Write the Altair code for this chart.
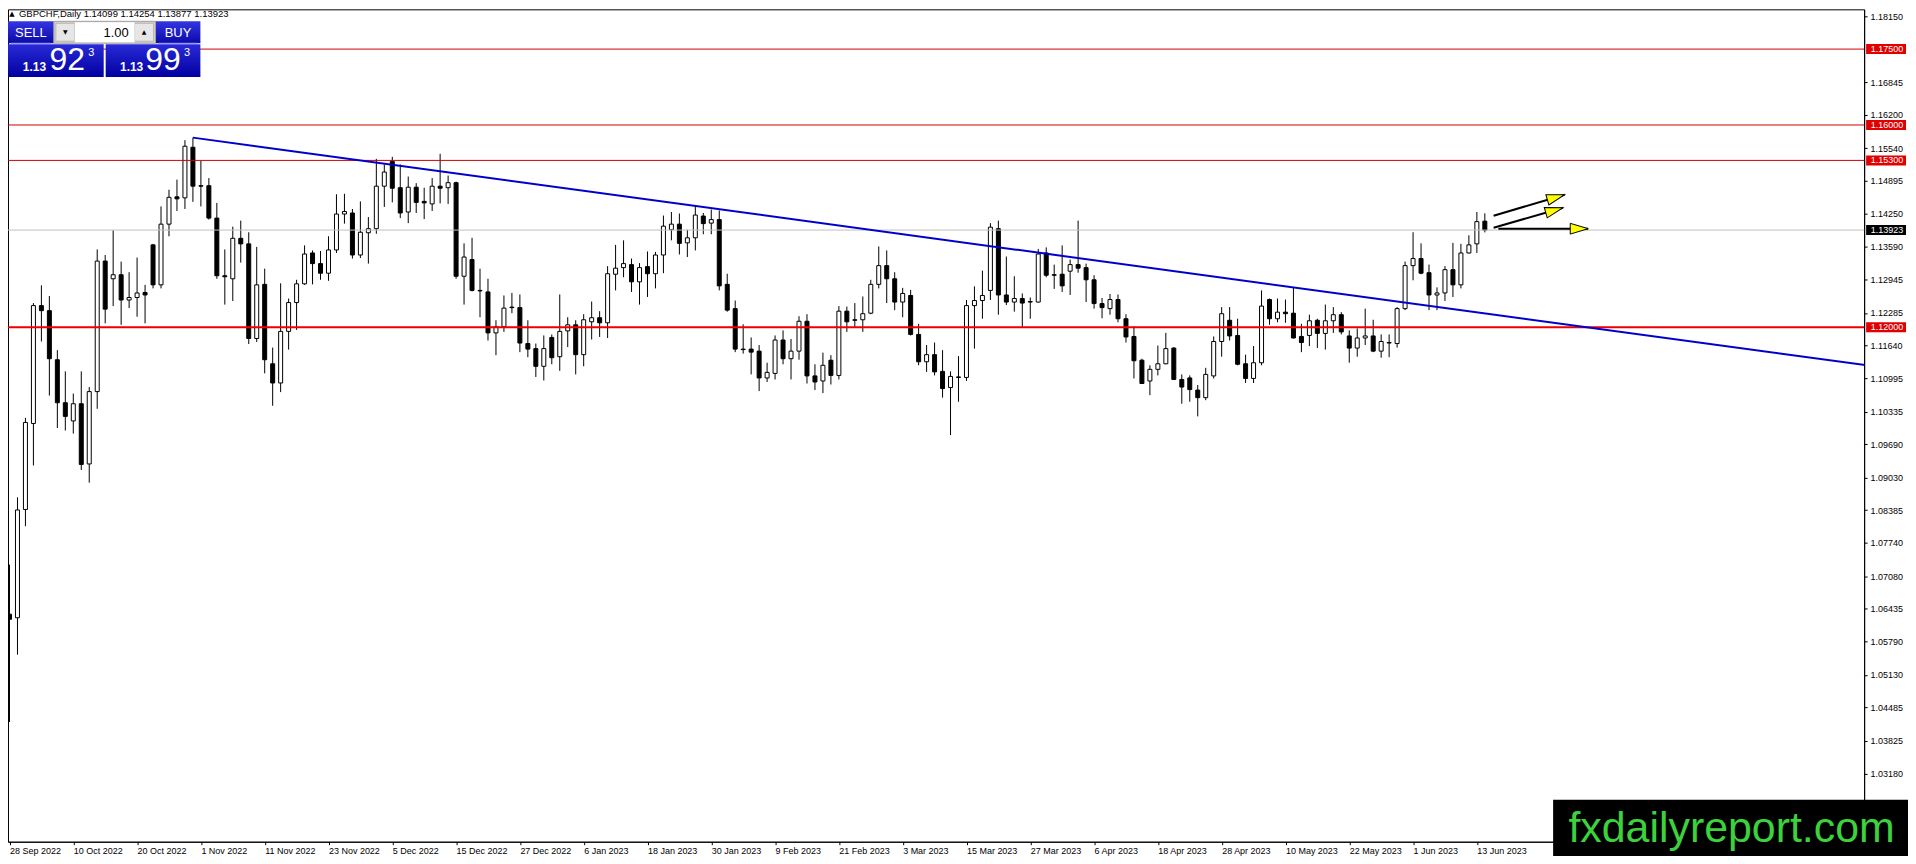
import math
import altair as alt
import pandas as pd

# ---------------- data ----------------
opens = [1.0633, 1.0626, 1.0840, 1.1010, 1.1243, 1.1233, 1.1136, 1.1051, 1.1015, 1.1049,
         1.0930, 1.1073, 1.1331, 1.1296, 1.1304, 1.1254, 1.1259, 1.1269, 1.1363, 1.1284,
         1.1404, 1.1458, 1.1456, 1.1556, 1.1480, 1.1480, 1.1416, 1.1302, 1.1296, 1.1376,
         1.1365, 1.1178, 1.1285, 1.1128, 1.1090, 1.1192, 1.1249, 1.1286, 1.1347, 1.1326,
         1.1307, 1.1353, 1.1424, 1.1426, 1.1343, 1.1387, 1.1395, 1.1479, 1.1528, 1.1476,
         1.1428, 1.1477, 1.1449, 1.1444, 1.1479, 1.1476, 1.1486, 1.1301, 1.1334, 1.1273,
         1.1270, 1.1189, 1.1201, 1.1240, 1.1239, 1.1168, 1.1158, 1.1123, 1.1180, 1.1142,
         1.1193, 1.1205, 1.1146, 1.1211, 1.1219, 1.1209, 1.1305, 1.1318, 1.1324, 1.1290,
         1.1320, 1.1306, 1.1343, 1.1393, 1.1404, 1.1367, 1.1377, 1.1420, 1.1406, 1.1413,
         1.1285, 1.1237, 1.1157, 1.1157, 1.1153, 1.1100, 1.1109, 1.1175, 1.1138, 1.1153,
         1.1212, 1.1104, 1.1094, 1.1135, 1.1105, 1.1232, 1.1215, 1.1215, 1.1228, 1.1285,
         1.1322, 1.1296, 1.1250, 1.1263, 1.1186, 1.1132, 1.1146, 1.1113, 1.1081, 1.1102,
         1.1101, 1.1243, 1.1253, 1.1273, 1.1395, 1.1264, 1.1250, 1.1257, 1.1251, 1.1250,
         1.1347, 1.1304, 1.1305, 1.1311, 1.1324, 1.1318, 1.1294, 1.1247, 1.1237, 1.1255,
         1.1217, 1.1182, 1.1135, 1.1094, 1.1117, 1.1128, 1.1159, 1.1097, 1.1100, 1.1076,
         1.1061, 1.1104, 1.1172, 1.1214, 1.1184, 1.1128, 1.1099, 1.1130, 1.1255, 1.1217,
         1.1230, 1.1228, 1.1182, 1.1184, 1.1214, 1.1188, 1.1213, 1.1225, 1.1183, 1.1159,
         1.1179, 1.1183, 1.1153, 1.1169, 1.1168, 1.1237, 1.1322, 1.1336, 1.1308, 1.1264,
         1.1268, 1.1314, 1.1284, 1.1347, 1.1365, 1.14099]

highs = [1.0731, 1.0864, 1.1021, 1.1248, 1.1283, 1.1262, 1.1155, 1.1113, 1.1069, 1.1113,
         1.1082, 1.1354, 1.1343, 1.1392, 1.1330, 1.1309, 1.1338, 1.1284, 1.1365, 1.1439,
         1.1472, 1.1492, 1.1570, 1.1575, 1.1529, 1.1495, 1.1446, 1.1354, 1.1399, 1.1411,
         1.1388, 1.1359, 1.1316, 1.1160, 1.1287, 1.1257, 1.1294, 1.1362, 1.1352, 1.1351,
         1.1380, 1.1463, 1.1464, 1.1434, 1.1449, 1.1418, 1.1533, 1.1522, 1.1537, 1.1522,
         1.1498, 1.1485, 1.1476, 1.1495, 1.1543, 1.1500, 1.1488, 1.1366, 1.1377, 1.1316,
         1.1296, 1.1214, 1.1263, 1.1268, 1.1265, 1.1214, 1.1168, 1.1184, 1.1186, 1.1265,
         1.1220, 1.1214, 1.1226, 1.1251, 1.1232, 1.1321, 1.1363, 1.1372, 1.1336, 1.1327,
         1.1350, 1.1349, 1.1421, 1.1428, 1.1425, 1.1393, 1.1441, 1.1426, 1.1433, 1.1431,
         1.1306, 1.1253, 1.1206, 1.1180, 1.1165, 1.1130, 1.1184, 1.1194, 1.1177, 1.1222,
         1.1226, 1.1127, 1.1150, 1.1145, 1.1242, 1.1241, 1.1248, 1.1261, 1.1294, 1.1360,
         1.1352, 1.1309, 1.1278, 1.1274, 1.1207, 1.1165, 1.1170, 1.1155, 1.1113, 1.1143,
         1.1254, 1.1281, 1.1312, 1.1406, 1.1411, 1.1340, 1.1301, 1.1267, 1.1259, 1.1355,
         1.1358, 1.1324, 1.1362, 1.1334, 1.1411, 1.1326, 1.1303, 1.1258, 1.1266, 1.1265,
         1.1226, 1.1202, 1.1138, 1.1125, 1.1164, 1.1189, 1.1161, 1.1107, 1.1105, 1.1086,
         1.1120, 1.1182, 1.1240, 1.1240, 1.1217, 1.1146, 1.1163, 1.1273, 1.1257, 1.1257,
         1.1255, 1.1278, 1.1207, 1.1225, 1.1217, 1.1245, 1.1240, 1.1230, 1.1194, 1.1198,
         1.1237, 1.1215, 1.1186, 1.1186, 1.1240, 1.1330, 1.1388, 1.1366, 1.1324, 1.1279,
         1.1321, 1.1367, 1.1365, 1.1382, 1.1428, 1.14254]

lows = [1.0420, 1.0553, 1.0807, 1.0927, 1.1172, 1.1065, 1.1001, 1.0996, 1.0990, 1.0918,
        1.0893, 1.1039, 1.1208, 1.1242, 1.1205, 1.1238, 1.1221, 1.1208, 1.1277, 1.1277,
        1.1380, 1.1430, 1.1434, 1.1448, 1.1439, 1.1413, 1.1296, 1.1245, 1.1252, 1.1328,
        1.1167, 1.1171, 1.1109, 1.1045, 1.1072, 1.1156, 1.1195, 1.1284, 1.1285, 1.1294,
        1.1292, 1.1347, 1.1405, 1.1336, 1.1337, 1.1326, 1.1385, 1.1438, 1.1447, 1.1416,
        1.1406, 1.1426, 1.1414, 1.1430, 1.1445, 1.1444, 1.1296, 1.1245, 1.1271, 1.1220,
        1.1174, 1.1145, 1.1191, 1.1228, 1.1151, 1.1141, 1.1102, 1.1095, 1.1127, 1.1114,
        1.1161, 1.1107, 1.1123, 1.1176, 1.1181, 1.1179, 1.1273, 1.1299, 1.1270, 1.1245,
        1.1260, 1.1277, 1.1307, 1.1372, 1.1344, 1.1339, 1.1352, 1.1384, 1.1384, 1.1273,
        1.1231, 1.1151, 1.1148, 1.1107, 1.1074, 1.1092, 1.1097, 1.1127, 1.1097, 1.1136,
        1.1089, 1.1076, 1.1070, 1.1087, 1.1097, 1.1191, 1.1199, 1.1191, 1.1226, 1.1277,
        1.1248, 1.1234, 1.1220, 1.1184, 1.1125, 1.1112, 1.1105, 1.1061, 1.0987, 1.1053,
        1.1094, 1.1158, 1.1217, 1.1254, 1.1225, 1.1244, 1.1231, 1.1201, 1.1217, 1.1249,
        1.1299, 1.1276, 1.1270, 1.1264, 1.1308, 1.1250, 1.1237, 1.1218, 1.1225, 1.1210,
        1.1170, 1.1099, 1.1088, 1.1066, 1.1105, 1.1127, 1.1096, 1.1049, 1.1053, 1.1024,
        1.1056, 1.1099, 1.1142, 1.1174, 1.1125, 1.1090, 1.1090, 1.1125, 1.1205, 1.1210,
        1.1209, 1.1178, 1.1151, 1.1163, 1.1159, 1.1156, 1.1189, 1.1186, 1.1130, 1.1142,
        1.1165, 1.1151, 1.1140, 1.1141, 1.1160, 1.1234, 1.1293, 1.1305, 1.1234, 1.1234,
        1.1252, 1.1260, 1.1277, 1.1346, 1.1347, 1.13877]

closes = [1.0623, 1.0839, 1.1012, 1.1243, 1.1233, 1.1138, 1.1051, 1.1024, 1.1049, 1.0929,
          1.1073, 1.1331, 1.1236, 1.1304, 1.1254, 1.1259, 1.1268, 1.1264, 1.1284, 1.1404,
          1.1457, 1.1454, 1.1558, 1.1479, 1.1479, 1.1416, 1.1302, 1.1300, 1.1376, 1.1365,
          1.1178, 1.1284, 1.1136, 1.1090, 1.1192, 1.1249, 1.1286, 1.1345, 1.1326, 1.1307,
          1.1353, 1.1424, 1.1429, 1.1343, 1.1388, 1.1395, 1.1479, 1.1507, 1.1475, 1.1426,
          1.1477, 1.1447, 1.1446, 1.1479, 1.1475, 1.1486, 1.1301, 1.1339, 1.1273, 1.1272,
          1.1189, 1.1201, 1.1238, 1.1239, 1.1169, 1.1157, 1.1123, 1.1158, 1.1140, 1.1192,
          1.1205, 1.1146, 1.1215, 1.1219, 1.1209, 1.1306, 1.1317, 1.1326, 1.1290, 1.1318,
          1.1306, 1.1343, 1.1400, 1.1404, 1.1366, 1.1377, 1.1422, 1.1405, 1.1413, 1.1282,
          1.1234, 1.1157, 1.1156, 1.1151, 1.1100, 1.1111, 1.1175, 1.1138, 1.1153, 1.1212,
          1.1104, 1.1092, 1.1125, 1.1105, 1.1232, 1.1211, 1.1214, 1.1227, 1.1285, 1.1322,
          1.1296, 1.1250, 1.1267, 1.1186, 1.1132, 1.1146, 1.1112, 1.1079, 1.1103, 1.1101,
          1.1243, 1.1253, 1.1263, 1.1398, 1.1264, 1.1250, 1.1257, 1.1248, 1.1250, 1.1345,
          1.1303, 1.1303, 1.1282, 1.1324, 1.1317, 1.1294, 1.1247, 1.1239, 1.1255, 1.1217,
          1.1181, 1.1134, 1.1089, 1.1117, 1.1128, 1.1158, 1.1097, 1.1082, 1.1077, 1.1061,
          1.1107, 1.1172, 1.1227, 1.1183, 1.1127, 1.1099, 1.1130, 1.1242, 1.1217, 1.1230,
          1.1227, 1.1179, 1.1170, 1.1213, 1.1188, 1.1213, 1.1225, 1.1191, 1.1159, 1.1179,
          1.1183, 1.1153, 1.1172, 1.1170, 1.1237, 1.1322, 1.1336, 1.1307, 1.1264, 1.1268,
          1.1314, 1.1284, 1.1347, 1.1363, 1.1409, 1.13923]

date_labels = ["28 Sep 2022", "10 Oct 2022", "20 Oct 2022", "1 Nov 2022", "11 Nov 2022",
               "23 Nov 2022", "5 Dec 2022", "15 Dec 2022", "27 Dec 2022", "6 Jan 2023",
               "18 Jan 2023", "30 Jan 2023", "9 Feb 2023", "21 Feb 2023", "3 Mar 2023",
               "15 Mar 2023", "27 Mar 2023", "6 Apr 2023", "18 Apr 2023", "28 Apr 2023",
               "10 May 2023", "22 May 2023", "1 Jun 2023", "13 Jun 2023"]
bars_per_label = 8

price_ticks = [1.18150, 1.16845, 1.16200, 1.15540, 1.14895, 1.14250, 1.13590, 1.12945,
               1.12285, 1.11640, 1.10995, 1.10335, 1.09690, 1.09030, 1.08385, 1.07740,
               1.07080, 1.06435, 1.05790, 1.05130, 1.04485, 1.03825, 1.03180]

resistance_levels = [1.17500, 1.16000, 1.15300]
support_level = 1.12000
bid_price = 1.13923

trend_bar = [23, 233.3]
trend_price = [1.1575, 1.1124]

arrow_bar0 = [186.1, 186.1, 186.7]
arrow_price0 = [1.14207, 1.13970, 1.13950]
arrow_bar1 = [195.0, 194.8, 197.96]
arrow_price1 = [1.14621, 1.14365, 1.13950]

symbol_text = "GBPCHF,Daily  1.14099 1.14254 1.13877 1.13923"

# ---------------- layout ----------------
W, H = 1862, 835
X_DOMAIN = [-0.1875, 232.5625]
Y_DOMAIN = [1.01833, 1.18286]
FONT = "Liberation Sans"

px_per_bar = W / (X_DOMAIN[1] - X_DOMAIN[0])
px_per_price = H / (Y_DOMAIN[1] - Y_DOMAIN[0])

xscale = alt.Scale(domain=X_DOMAIN, nice=False, zero=False)
yscale = alt.Scale(domain=Y_DOMAIN, nice=False, zero=False)

label_expr = "[" + ",".join("'%s'" % s for s in date_labels) + "][floor(datum.value / %d)]" % bars_per_label
xaxis = alt.Axis(values=[i * bars_per_label for i in range(len(date_labels))], labelExpr=label_expr,
                 labelAlign="left", labelBaseline="top", tickSize=3, labelPadding=2,
                 labelOverlap=False, labelFlush=False, grid=False, title=None)
yaxis = alt.Axis(orient="right", values=price_ticks, format=".5f", tickSize=3, labelPadding=3,
                 labelOverlap=False, labelFlush=False, grid=False, title=None)


def X(f):
    return alt.X(f, type="quantitative", scale=xscale, axis=xaxis, title=None)


def Y(f):
    return alt.Y(f, type="quantitative", scale=yscale, axis=yaxis, title=None)


candles = pd.DataFrame({"idx": list(range(len(opens))), "o": opens, "h": highs, "l": lows, "c": closes})

wicks = alt.Chart(candles).mark_rule(color="black", strokeWidth=1).encode(
    x=X("idx"), y=Y("l"), y2="h")

bodies = alt.Chart(candles).transform_calculate(
    x1="datum.idx - 0.25", x2="datum.idx + 0.25",
    top="max(datum.o, datum.c)", bot="min(datum.o, datum.c)"
).mark_rect(stroke="black", strokeWidth=1).encode(
    x=X("x1:Q"), x2="x2:Q", y=Y("bot:Q"), y2="top:Q",
    fill=alt.condition("datum.c >= datum.o", alt.value("white"), alt.value("black")))

res_df = pd.DataFrame({"p": resistance_levels})
res_lines = alt.Chart(res_df).mark_rule(color="#cc0000", strokeWidth=1).encode(y=Y("p"))
sup_line = alt.Chart(pd.DataFrame({"p": [support_level]})).mark_rule(color="#ee0000", strokeWidth=2).encode(y=Y("p"))
bid_line = alt.Chart(pd.DataFrame({"p": [bid_price]})).mark_rule(color="#c0c0c0", strokeWidth=1).encode(y=Y("p"))

trend = alt.Chart(pd.DataFrame({"i": trend_bar, "p": trend_price})).mark_line(
    color="#0000cc", strokeWidth=2, clip=True).encode(x=X("i"), y=Y("p"))

angles = []
for a0, p0, a1, p1 in zip(arrow_bar0, arrow_price0, arrow_bar1, arrow_price1):
    ang = -math.degrees(math.atan2((p1 - p0) * px_per_price, (a1 - a0) * px_per_bar))
    angles.append(ang % 360)
arrows_df = pd.DataFrame({"x0": arrow_bar0, "y0": arrow_price0, "x1": arrow_bar1, "y1": arrow_price1, "ang": angles})
arrow_lines = alt.Chart(arrows_df).mark_rule(color="black", strokeWidth=2).encode(
    x=X("x0"), x2="x1", y=Y("y0"), y2="y1")
arrow_heads = alt.Chart(arrows_df).mark_point(
    shape="M0,0L-2,-0.6L-2,0.6Z", size=324, filled=True, fill="#ffff00", stroke="black",
    strokeWidth=1, opacity=1).encode(x=X("x1"), y=Y("y1"), angle=alt.Angle("ang:Q", scale=None))

tag_df = pd.DataFrame({"p": resistance_levels + [support_level, bid_price],
                       "col": ["#e00000"] * 4 + ["#000000"]})
tag_boxes = alt.Chart(tag_df).mark_point(
    shape="M-1,-0.25L1,-0.25L1,0.25L-1,0.25Z", size=1600, filled=True, opacity=1, strokeWidth=0
).encode(x=alt.value(1884), y=Y("p"), color=alt.Color("col:N", scale=None))
tag_text = alt.Chart(tag_df).mark_text(color="white", font=FONT, fontSize=9, align="center",
                                       baseline="middle").encode(
    x=alt.value(1885), y=Y("p"), text=alt.Text("p:Q", format=".5f"))

one = pd.DataFrame({"k": [0]})


def rect(x, x2, y, y2, **kw):
    return alt.Chart(one).mark_rect(**kw).encode(
        x=alt.value(x), x2=alt.value(x2), y=alt.value(y), y2=alt.value(y2))


def text(s, x, y, **kw):
    kw.setdefault("font", FONT)
    kw.setdefault("baseline", "middle")
    return alt.Chart(one).mark_text(text=s, **kw).encode(x=alt.value(x), y=alt.value(y))


blue = alt.LinearGradient(gradient="linear", x1=0, y1=0, x2=0, y2=1,
                          stops=[alt.GradientStop(color="#3535e2", offset=0),
                                 alt.GradientStop(color="#0a0aa8", offset=1)])
blue2 = alt.LinearGradient(gradient="linear", x1=0, y1=0, x2=0, y2=1,
                           stops=[alt.GradientStop(color="#2a2ad8", offset=0),
                                  alt.GradientStop(color="#0000a0", offset=1)])

panel = [
    text("\u25B2", 4, 4.5, font="DejaVu Sans", fontSize=7, align="center", color="black"),
    text(symbol_text, 11, 4.5, fontSize=9.5, align="left", color="black"),
    rect(0, 46, 12, 34, fill=blue),
    rect(0, 96, 35, 68, fill=blue2),
    rect(148, 193, 12, 34, fill=blue),
    rect(98, 193, 35, 68, fill=blue2),
    rect(3, 43, 33.5, 34.5, fill="#8a8aff"),
    rect(151, 190, 33.5, 34.5, fill="#8a8aff"),
    rect(46, 148, 12, 34, fill="#d4d0c8", stroke="#a0a0a0", strokeWidth=1),
    rect(48, 67, 14, 32, fill="#e6e6e6", stroke="#b8b8b8", strokeWidth=1),
    rect(127, 146, 14, 32, fill="#e6e6e6", stroke="#b8b8b8", strokeWidth=1),
    rect(67, 127, 13, 33, fill="white"),
    text("\u25BC", 57.5, 23, font="DejaVu Sans", fontSize=6, align="center", color="black"),
    text("\u25B2", 136.5, 23, font="DejaVu Sans", fontSize=6, align="center", color="black"),
    text("1.00", 121, 23.5, fontSize=13, align="right", color="black"),
    text("SELL", 23, 23.5, fontSize=13, align="center", color="white"),
    text("BUY", 170.5, 23.5, fontSize=13, align="center", color="white"),
    text("1.13", 26.5, 58, fontSize=12, fontWeight="bold", align="center", color="white"),
    text("92", 59.5, 51, fontSize=32, align="center", color="white"),
    text("3", 83.5, 43.5, fontSize=11, align="center", color="white"),
    text("1.13", 124, 58, fontSize=12, fontWeight="bold", align="center", color="white"),
    text("99", 155.5, 51, fontSize=32, align="center", color="white"),
    text("3", 179.5, 43.5, fontSize=11, align="center", color="white"),
]

watermark = [
    rect(1550, 1915, 793, 860, fill="black"),
    text("fxdailyreport.com", 1729, 835, fontSize=43, align="center", baseline="alphabetic",
         color="#3cd23c"),
]

chart = alt.layer(
    wicks, bodies, res_lines, sup_line, bid_line, trend, arrow_lines, arrow_heads,
    tag_boxes, tag_text, *panel, *watermark
).properties(
    width=W, height=H,
    autosize=alt.AutoSizeParams(type="none"),
    padding={"left": 0, "top": 0, "right": 44, "bottom": 13},
    background="white",
).configure_view(stroke="black", strokeWidth=1).configure_axis(
    labelFont=FONT, labelFontSize=9, labelColor="black", tickColor="black",
    domainColor="black", domainWidth=1, tickWidth=1, grid=False)

chart.save("out.html", embed_options={"renderer": "svg", "actions": False})
